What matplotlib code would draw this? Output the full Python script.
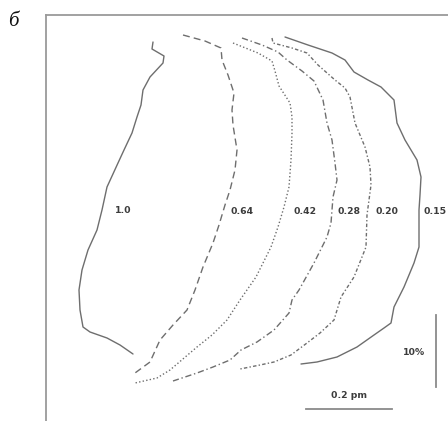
import matplotlib
matplotlib.use("Agg")
import matplotlib.pyplot as plt

# Contour traces (frame coordinates: x to the right, y downward)
c100_x = [153, 152, 164, 163, 150, 143, 141, 137, 132, 124, 118, 107, 102, 97, 88, 82, 79, 80, 83, 90, 107, 120, 133]
c100_y = [42, 49, 56, 63, 77, 90, 105, 117, 133, 150, 163, 187, 210, 230, 250, 270, 290, 310, 327, 332, 338, 345, 354]

c064_x = [183, 205, 221, 222, 228, 234, 232, 233, 237, 235, 230, 225, 219, 213, 203, 195, 187, 173, 160, 150, 135]
c064_y = [35, 41, 48, 60, 75, 93, 110, 125, 150, 170, 190, 205, 225, 243, 267, 290, 310, 325, 340, 362, 373]

c042_x = [233, 258, 272, 275, 279, 290, 292, 292, 291, 289, 284, 278, 271, 256, 240, 227, 212, 197, 170, 157, 135]
c042_y = [43, 53, 61, 71, 86, 103, 117, 133, 160, 187, 207, 227, 247, 277, 300, 320, 335, 347, 370, 378, 383]

c028_x = [242, 262, 278, 287, 302, 314, 323, 327, 332, 335, 337, 333, 331, 327, 314, 299, 292, 289, 274, 257, 241, 230, 213, 197, 173]
c028_y = [38, 45, 52, 60, 71, 81, 100, 123, 140, 163, 180, 197, 223, 237, 263, 290, 300, 313, 330, 342, 350, 360, 367, 373, 381]

c020_x = [272, 273, 292, 307, 318, 335, 345, 350, 355, 365, 370, 371, 369, 367, 366, 354, 341, 334, 320, 307, 291, 274, 260, 240]
c020_y = [38, 43, 48, 53, 65, 80, 88, 97, 123, 147, 167, 185, 200, 215, 247, 277, 297, 320, 333, 343, 355, 362, 365, 369]

c015_x = [285, 308, 332, 345, 354, 368, 381, 387, 394, 397, 405, 417, 421, 420, 419, 419, 414, 404, 394, 391, 384, 374, 357, 337, 317, 301]
c015_y = [37, 45, 53, 60, 72, 80, 87, 93, 100, 123, 140, 160, 177, 195, 210, 247, 263, 287, 307, 323, 328, 335, 347, 357, 362, 364]

level_labels = ["1.0", "0.64", "0.42", "0.28", "0.20", "0.15"]
label_x = [115, 230, 293, 337, 375, 423]
label_y = [211, 212, 212, 212, 212, 212]

line_color = "#6e6e6e"
text_color = "#3c3c3c"

fig = plt.figure(figsize=(4.48, 4.21), dpi=100)
ax = fig.add_axes([46 / 448, 0, (448 - 46) / 448, (421 - 15) / 421])
ax.set_xlim(46, 448)
ax.set_ylim(421, 15)
for side in ("right", "bottom"):
    ax.spines[side].set_visible(False)
for side in ("left", "top"):
    ax.spines[side].set_color("#9a9a9a")
    ax.spines[side].set_linewidth(1.3)
ax.set_xticks([])
ax.set_yticks([])

styles = [
    (c100_x, c100_y, "-"),
    (c064_x, c064_y, (0, (5, 3))),
    (c042_x, c042_y, (0, (1, 1.6))),
    (c028_x, c028_y, (0, (4.5, 2, 1, 2))),
    (c020_x, c020_y, (0, (2.5, 1.6, 1, 1.6))),
    (c015_x, c015_y, "-"),
]
for xs, ys, ls in styles:
    ax.plot(xs, ys, color=line_color, lw=1.0, linestyle=ls,
            solid_capstyle="round", dash_capstyle="butt")

for txt, x, y in zip(level_labels, label_x, label_y):
    ax.text(x, y, txt, ha="left", va="center", fontsize=6.7,
            fontweight="bold", color=text_color, family="DejaVu Sans",
            clip_on=False)

# Scale bars
ax.plot([436, 436], [315, 387], color="#8a8a8a", lw=1.3)
ax.text(414, 353, "10%", ha="center", va="center", fontsize=6.7,
        fontweight="bold", color=text_color, family="DejaVu Sans")
ax.plot([306, 392], [409, 409], color="#8a8a8a", lw=1.3)
ax.text(349, 396, "0.2 pm", ha="center", va="center", fontsize=6.7,
        fontweight="bold", color=text_color, family="DejaVu Sans")

fig.text(13 / 448, 1 - 22 / 421, "б", ha="center", va="center",
         fontsize=15, style="italic", family="Liberation Serif", color="#111111")

fig.savefig("out.png", dpi=100)
